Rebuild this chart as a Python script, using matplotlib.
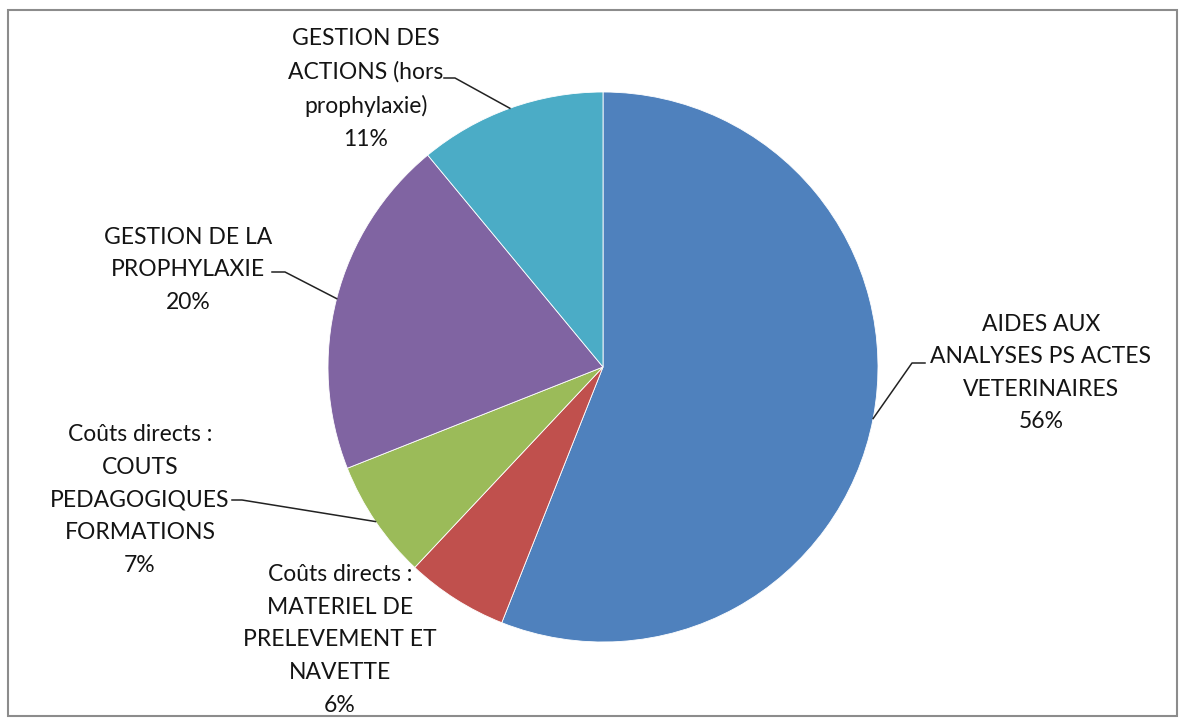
import numpy as np
import matplotlib
matplotlib.use("Agg")
import matplotlib.pyplot as plt
from matplotlib.patches import Rectangle

plt.rcParams['font.family'] = ['Lato', 'DejaVu Sans']

# ---- data ----
labels = [
    "AIDES AUX\nANALYSES PS ACTES\nVETERINAIRES",
    "Coûts directs :\nMATERIEL DE\nPRELEVEMENT ET\nNAVETTE",
    "Coûts directs :\nCOUTS\nPEDAGOGIQUES\nFORMATIONS",
    "GESTION DE LA\nPROPHYLAXIE",
    "GESTION DES\nACTIONS (hors\nprophylaxie)",
]
values = [56, 6, 7, 20, 11]
colors = ["#4F81BD", "#C0504D", "#9BBB59", "#8064A2", "#4BACC6"]

W, H = 1186, 718
fig = plt.figure(figsize=(W / 100, H / 100), dpi=100)
ax = fig.add_axes([0, 0, 1, 1])

def py(y):
    return H - y

cx, cy, R = 603, 367, 275
wedges, _ = ax.pie(values, colors=colors, startangle=90, counterclock=False,
                   center=(cx, py(cy)), radius=R,
                   wedgeprops=dict(edgecolor='white', linewidth=0.6), frame=True)
ax.set_xlim(0, W)
ax.set_ylim(0, H)
ax.set_aspect('equal')
ax.axis('off')

# label layout: text center (px), leader elbow & end (px) or None
layout = [
    ((1041, 373), [(912, 363), (925, 363)]),
    ((340, 640), None),
    ((140, 500), [(242, 500), (232, 500)]),
    ((188, 270), [(285, 272), (272, 272)]),
    ((366, 89), [(455, 78), (444, 78)]),
]

total = sum(values)
for w, lab, v, (tc, lead) in zip(wedges, labels, values, layout):
    txt = f"{lab}\n{round(100 * v / total)}%"
    ax.text(tc[0], py(tc[1]), txt, ha='center', va='center', fontsize=16.5,
            color='#141414', linespacing=1.68)
    if lead is not None:
        ang = np.deg2rad((w.theta1 + w.theta2) / 2)
        ax_, ay_ = w.center[0] + R * np.cos(ang), w.center[1] + R * np.sin(ang)
        xs = [ax_] + [p[0] for p in lead]
        ys = [ay_] + [py(p[1]) for p in lead]
        ax.plot(xs, ys, color='#222222', linewidth=1.1)

ax.add_patch(Rectangle((8, py(716)), 1169, 706, fill=False, edgecolor='#8c8c8c',
                       linewidth=1.5))

fig.savefig("out.png", dpi=100)
